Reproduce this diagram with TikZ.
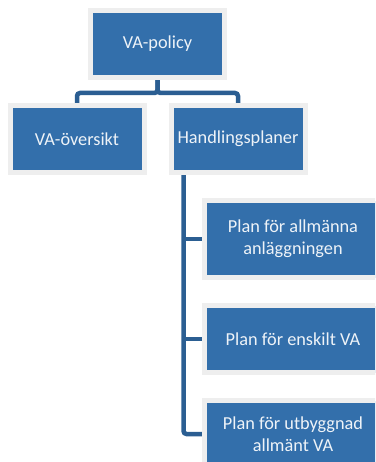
\documentclass[tikz,border=0pt]{standalone}
\usepackage{fontspec}
\setmainfont{Carlito}
\usetikzlibrary{positioning,backgrounds}
\definecolor{boxblue}{RGB}{51,111,171}
\definecolor{linkblue}{RGB}{43,94,146}
\definecolor{rimgrey}{RGB}{238,238,238}
\definecolor{labelwhite}{RGB}{238,243,248}

\begin{document}
\begin{tikzpicture}
[x=1pt,y=-1pt,
box/.style={draw=rimgrey, fill=boxblue, line width=5pt, outer sep=0pt,
  text=labelwhite, font=\fontsize{18.3}{22}\selectfont, align=center,
  minimum width=134pt, minimum height=67pt, inner sep=2pt},
wide/.style={minimum width=177pt},
link/.style={draw=linkblue, line width=4.5pt, rounded corners=3pt}]
\clip (0,0) rectangle (375,462);
\useasboundingbox (0,0) rectangle (375,462);

\node[box] (policy) at (157.5,44) {VA-policy};
\node[box] (oversikt) at (77,139) {VA-översikt};
\node[box] (plans) at (238,139) {Handlingsplaner};

\node[box, wide, minimum height=77pt] (plan1) at (293,239) {Plan för allmänna\\anläggningen};
\node[box, wide] (plan2) at (293,339) {Plan för enskilt VA};
\node[box, wide] (plan3) at (293,434) {Plan för utbyggnad\\allmänt VA};

\begin{scope}[on background layer]
\draw[link] (policy.south) -- ++(0,15.5) -| (oversikt.north);
\draw[link] (policy.south) -- ++(0,15.5) -| (plans.north);

\coordinate (trunk) at ([xshift=12.5pt]plans.south west);
\draw[link] (trunk) |- (plan3.west);
\draw[link] (trunk |- plan1.west) -- (plan1.west);
\draw[link] (trunk |- plan2.west) -- (plan2.west);
\end{scope}
\end{tikzpicture}
\end{document}
